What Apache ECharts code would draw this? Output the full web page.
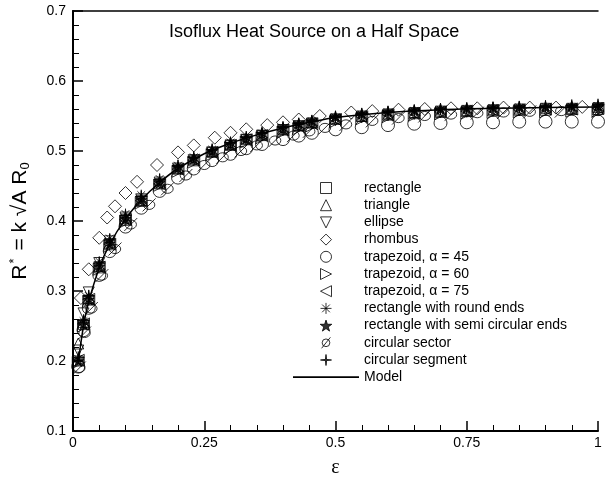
<!DOCTYPE html>
<html>
<head>
<meta charset="utf-8">
<script src="https://cdn.jsdelivr.net/npm/echarts@6/dist/echarts.min.js"></script>
<style>
  html, body { margin: 0; padding: 0; background: #fff; }
  #chart { width: 607px; height: 483px; }
</style>
</head>
<body>
<div id="chart"></div>
<script>
// eps values shared by most shapes
var epsGrid = [0.01, 0.02, 0.03, 0.05, 0.07, 0.1, 0.13, 0.165, 0.2, 0.23, 0.265, 0.3, 0.33, 0.36,
  0.4, 0.43, 0.455, 0.5, 0.55, 0.6, 0.65, 0.7, 0.75, 0.8, 0.85, 0.9, 0.95, 1.0];

var rectangleR = [0.200, 0.252, 0.287, 0.333, 0.366, 0.401, 0.428, 0.453, 0.474, 0.486, 0.498, 0.508, 0.516, 0.522,
  0.530, 0.536, 0.540, 0.546, 0.550, 0.553, 0.555, 0.557, 0.558, 0.559, 0.560, 0.561, 0.561, 0.562];
var triangleR = [0.225, 0.256, 0.290, 0.336, 0.369, 0.404, 0.430, 0.455, 0.476, 0.489, 0.500, 0.510, 0.518, 0.524,
  0.532, 0.537, 0.541, 0.546, 0.550, 0.552, 0.554, 0.556, 0.557, 0.558, 0.559, 0.559, 0.560, 0.560];
var ellipseR = [0.215, 0.268, 0.298, 0.340, 0.371, 0.405, 0.431, 0.455, 0.475, 0.487, 0.498, 0.508, 0.516, 0.522,
  0.530, 0.535, 0.539, 0.544, 0.548, 0.551, 0.553, 0.555, 0.556, 0.557, 0.558, 0.559, 0.559, 0.560];
var trap45R = [0.192, 0.244, 0.276, 0.323, 0.357, 0.392, 0.419, 0.443, 0.462, 0.475, 0.487, 0.496, 0.504, 0.510,
  0.517, 0.522, 0.526, 0.531, 0.534, 0.537, 0.539, 0.540, 0.541, 0.541, 0.542, 0.542, 0.542, 0.542];
var trap60R = [0.198, 0.250, 0.285, 0.331, 0.364, 0.399, 0.426, 0.451, 0.471, 0.484, 0.495, 0.505, 0.513, 0.519,
  0.527, 0.532, 0.536, 0.542, 0.546, 0.549, 0.551, 0.553, 0.554, 0.555, 0.556, 0.556, 0.557, 0.557];
var trap75R = [0.201, 0.253, 0.288, 0.334, 0.367, 0.402, 0.429, 0.453, 0.474, 0.487, 0.498, 0.508, 0.516, 0.522,
  0.530, 0.535, 0.539, 0.545, 0.549, 0.552, 0.554, 0.556, 0.557, 0.558, 0.559, 0.560, 0.560, 0.561];
var roundEndsR = [0.203, 0.257, 0.293, 0.342, 0.375, 0.410, 0.437, 0.460, 0.479, 0.491, 0.502, 0.512, 0.519, 0.525,
  0.533, 0.538, 0.542, 0.548, 0.552, 0.555, 0.557, 0.559, 0.560, 0.561, 0.562, 0.563, 0.563, 0.564];
var semiEndsR = [0.200, 0.253, 0.288, 0.335, 0.368, 0.403, 0.430, 0.455, 0.476, 0.489, 0.500, 0.510, 0.518, 0.525,
  0.533, 0.539, 0.543, 0.549, 0.553, 0.556, 0.558, 0.560, 0.561, 0.562, 0.563, 0.563, 0.564, 0.564];
var segmentR = [0.205, 0.258, 0.293, 0.340, 0.373, 0.408, 0.435, 0.459, 0.479, 0.491, 0.502, 0.512, 0.520, 0.526,
  0.534, 0.539, 0.543, 0.549, 0.553, 0.556, 0.558, 0.560, 0.561, 0.562, 0.563, 0.564, 0.565, 0.566];

// rhombus and sector sit on their own eps values
var rhombusEps = [0.015, 0.03, 0.05, 0.065, 0.08, 0.1, 0.122, 0.16, 0.2, 0.23, 0.27, 0.3, 0.33, 0.37,
  0.4, 0.43, 0.47, 0.53, 0.57, 0.62, 0.67, 0.72, 0.77, 0.82, 0.87, 0.92, 0.97];
var rhombusR = [0.290, 0.331, 0.376, 0.405, 0.421, 0.440, 0.456, 0.480, 0.498, 0.508, 0.519, 0.526, 0.531, 0.537,
  0.541, 0.545, 0.550, 0.555, 0.557, 0.559, 0.560, 0.561, 0.561, 0.562, 0.562, 0.562, 0.563];
var sectorEps = [0.012, 0.022, 0.035, 0.055, 0.08, 0.11, 0.145, 0.18, 0.215, 0.25, 0.285, 0.32, 0.35, 0.385,
  0.42, 0.45, 0.48, 0.52, 0.57, 0.62, 0.67, 0.72, 0.77, 0.82, 0.87, 0.93, 1.0];
var sectorR = [0.190, 0.240, 0.275, 0.322, 0.360, 0.395, 0.423, 0.446, 0.465, 0.480, 0.491, 0.500, 0.508, 0.515,
  0.522, 0.528, 0.533, 0.538, 0.543, 0.547, 0.550, 0.552, 0.554, 0.555, 0.556, 0.557, 0.557];

// model curve
var modelEps = [0.01, 0.02, 0.03, 0.05, 0.07, 0.1, 0.13, 0.165, 0.2, 0.25, 0.3, 0.35, 0.4, 0.45, 0.5, 0.6, 0.7, 0.8, 0.9, 1.0];
var modelR = [0.198, 0.250, 0.285, 0.333, 0.367, 0.403, 0.430, 0.455, 0.475, 0.496, 0.511, 0.523, 0.533, 0.541, 0.548,
  0.555, 0.559, 0.561, 0.562, 0.563];

var yTicks = [0.1, 0.2, 0.3, 0.4, 0.5, 0.6, 0.7];

function zip(xs, ys) {
  var out = [];
  for (var i = 0; i < xs.length; i++) out.push([xs[i], ys[i]]);
  return out;
}

// all shapes as paths so the legend keeps their aspect
var paths = {
  rect: 'path://M0,0L10,0L10,10L0,10Z',
  up: 'path://M5,0L10,10L0,10Z',
  down: 'path://M0,0L10,0L5,10Z',
  diamond: 'path://M5,0L10,5L5,10L0,5Z',
  right: 'path://M0,0L10,5L0,10Z',
  left: 'path://M10,0L0,5L10,10Z',
  asterisk: 'path://M0,5L10,5M5,0L5,10M1.5,1.5L8.5,8.5M8.5,1.5L1.5,8.5',
  star: 'path://M5,0L6.2,3.6L10,3.6L6.9,5.9L8.1,9.5L5,7.3L1.9,9.5L3.1,5.9L0,3.6L3.8,3.6Z',
  sector: 'path://M1.5,5A3.5,3.5 0 1 1 8.5,5A3.5,3.5 0 1 1 1.5,5ZM1,10L9,0',
  segment: 'path://M5,0L5.5,4.5L10,5L5.5,5.5L5,10L4.5,5.5L0,5L4.5,4.5Z',
  line: 'path://M0,0L60,0L60,1.6L0,1.6Z'
};

function scatter(name, xs, ys, symbol, size, filled) {
  return {
    name: name,
    type: 'scatter',
    data: zip(xs, ys),
    symbol: symbol,
    symbolSize: size,
    itemStyle: {
      color: filled ? '#000' : 'rgba(0,0,0,0)',
      borderColor: '#000',
      borderWidth: 1
    },
    emphasis: { disabled: true },
    z: 3
  };
}

var myChart = echarts.init(document.getElementById('chart'));
var font = 'Liberation Sans, Arial, sans-serif';

myChart.setOption({
  animation: false,
  backgroundColor: '#fff',
  title: {
    text: 'Isoflux Heat Source on a Half Space',
    left: 164,
    top: 18,
    textStyle: { fontFamily: font, fontSize: 18, fontWeight: 'normal', color: '#000' }
  },
  grid: { left: 73, right: 9, top: 11, bottom: 44, containLabel: false },
  legend: {
    orient: 'vertical',
    left: 293,
    top: 181,
    padding: 0,
    itemWidth: 66,
    itemHeight: 11,
    itemGap: 3.2,
    itemStyle: { borderWidth: 1 },
    textStyle: { fontFamily: font, fontSize: 14, color: '#000' },
    data: ['rectangle', 'triangle', 'ellipse', 'rhombus', 'trapezoid, α = 45', 'trapezoid, α = 60',
      'trapezoid, α = 75', 'rectangle with round ends', 'rectangle with semi circular ends',
      'circular sector', 'circular segment', { name: 'Model', icon: paths.line }]
  },
  xAxis: [{
    type: 'value',
    min: 0,
    max: 1,
    interval: 0.25,
    name: 'ε',
    nameLocation: 'middle',
    nameGap: 27,
    nameTextStyle: { fontFamily: 'Liberation Serif, serif', fontSize: 20, color: '#000' },
    axisLine: { lineStyle: { color: '#000', width: 2 } },
    axisTick: { inside: true, length: 10, lineStyle: { color: '#000', width: 1.5 } },
    minorTick: { show: true, splitNumber: 5, length: 6, lineStyle: { color: '#000', width: 1 } },
    splitLine: { show: false },
    axisLabel: { fontFamily: font, fontSize: 14, color: '#000', margin: 5 }
  }, {
    type: 'value', min: 0, max: 1, position: 'top',
    axisLine: { lineStyle: { color: '#000', width: 1.5 } },
    axisTick: { show: false }, axisLabel: { show: false }, splitLine: { show: false }
  }],
  yAxis: [{
    type: 'value',
    min: yTicks[0],
    max: yTicks[yTicks.length - 1],
    interval: 0.1,
    name: '{a|R}{s|*}{a| = k √A R}{b|0}',
    nameLocation: 'middle',
    nameRotate: 90,
    nameGap: 41,
    nameTextStyle: {
      color: '#000',
      rich: {
        a: { fontFamily: font, fontSize: 21, color: '#000' },
        s: { fontFamily: font, fontSize: 13, color: '#000', verticalAlign: 'top', padding: [0, 2, 11, 1] },
        b: { fontFamily: font, fontSize: 13, color: '#000', verticalAlign: 'bottom', padding: [9, 0, 0, 0] }
      }
    },
    axisLine: { lineStyle: { color: '#000', width: 2 } },
    axisTick: { inside: true, length: 10, lineStyle: { color: '#000', width: 1.5 } },
    minorTick: { show: true, splitNumber: 5, length: 6, lineStyle: { color: '#000', width: 1 } },
    splitLine: { show: false },
    axisLabel: {
      fontFamily: font, fontSize: 14, color: '#000', margin: 7,
      formatter: function (v) { return v.toFixed(1); }
    }
  }, {
    type: 'value', min: 0.1, max: 0.7, position: 'right',
    axisLine: { show: true, lineStyle: { color: '#000', width: 1.5 } },
    axisTick: { show: false }, axisLabel: { show: false }, splitLine: { show: false }
  }],
  series: [
    scatter('rectangle', epsGrid, rectangleR, paths.rect, 10, false),
    scatter('triangle', epsGrid, triangleR, paths.up, 11, false),
    scatter('ellipse', epsGrid, ellipseR, paths.down, 11, false),
    scatter('rhombus', rhombusEps, rhombusR, paths.diamond, 13, false),
    scatter('trapezoid, α = 45', epsGrid, trap45R, 'circle', 13, false),
    scatter('trapezoid, α = 60', epsGrid, trap60R, paths.right, 12, false),
    scatter('trapezoid, α = 75', epsGrid, trap75R, paths.left, 12, false),
    scatter('rectangle with round ends', epsGrid, roundEndsR, paths.asterisk, 11, false),
    scatter('rectangle with semi circular ends', epsGrid, semiEndsR, paths.star, 11, true),
    scatter('circular sector', sectorEps, sectorR, paths.sector, 13, false),
    scatter('circular segment', epsGrid, segmentR, paths.segment, 12, true),
    {
      name: 'Model',
      type: 'line',
      data: zip(modelEps, modelR),
      smooth: 0.3,
      symbol: 'none',
      lineStyle: { color: '#000', width: 1.5 },
      itemStyle: { color: '#000' },
      emphasis: { disabled: true },
      z: 4
    }
  ]
});
</script>
</body>
</html>
